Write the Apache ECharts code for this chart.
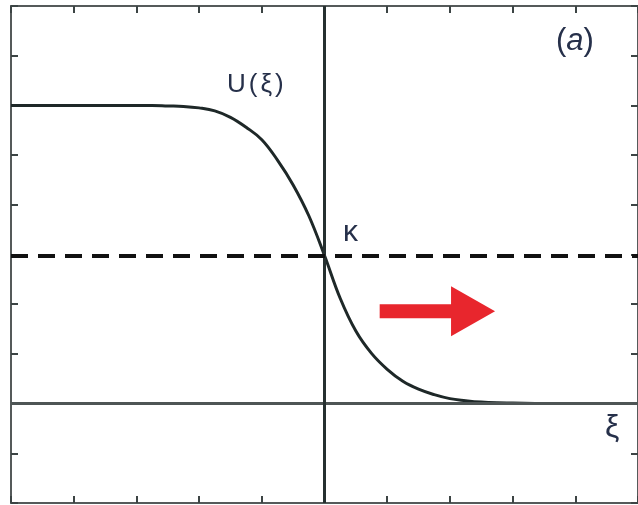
<!DOCTYPE html>
<html>
<head>
<meta charset="utf-8">
<script src="https://cdn.jsdelivr.net/npm/echarts@6/dist/echarts.min.js"></script>
<style>
  html, body { margin: 0; padding: 0; background: #ffffff; }
  #chart { width: 638px; height: 505px; }
</style>
</head>
<body>
<div id="chart"></div>
<script>
// Travelling front profile U(ξ): plateau on the left, decaying to zero on the right
const xi = [-5, -4.5, -4, -3.5, -3, -2.75, -2.5, -2.25, -2, -1.75, -1.5, -1.25, -1, -0.75, -0.5, -0.25, 0,
            0.25, 0.5, 0.75, 1, 1.25, 1.5, 1.75, 2, 2.25, 2.5, 2.75, 3, 3.5, 4, 4.5, 5];
const U  = [6.0, 6.0, 6.0, 6.0, 6.0, 6.0, 5.99, 5.98, 5.95, 5.89, 5.76, 5.56, 5.31, 4.90, 4.40, 3.78, 2.98,
            2.12, 1.46, 1.01, 0.69, 0.45, 0.29, 0.18, 0.10, 0.06, 0.03, 0.015, 0.01, 0.0, 0.0, 0.0, 0.0];

// Level κ where the front crosses ξ = 0
const kappa = 2.98;

// Direction of propagation: start and end ξ, at height U
const arrowXi = [0.88, 2.72];
const arrowU = 1.86;

// Axis ranges (ticks only, no labels)
const xRange = [-5, 5];
const yRange = [-2, 8];

const curve = xi.map((x, i) => [x, U[i]]);

const chart = echarts.init(document.getElementById('chart'), null, { renderer: 'canvas' });

const frameLine = { show: true, onZero: false, lineStyle: { color: '#555a5a', width: 2 } };
const tick = { show: true, inside: true, length: 7, lineStyle: { color: '#3c4444', width: 2 } };
const ink = '#26304a';

chart.setOption({
  animation: false,
  backgroundColor: '#ffffff',
  grid: { left: 11, top: 6, width: 629, height: 497 },
  xAxis: [
    { type: 'value', min: xRange[0], max: xRange[1], interval: 1, position: 'bottom',
      axisLine: frameLine, axisTick: tick, axisLabel: { show: false }, splitLine: { show: false } },
    { type: 'value', min: xRange[0], max: xRange[1], interval: 1, position: 'top',
      axisLine: frameLine, axisTick: tick, axisLabel: { show: false }, splitLine: { show: false } }
  ],
  yAxis: [
    { type: 'value', min: yRange[0], max: yRange[1], interval: 1, position: 'left',
      axisLine: frameLine, axisTick: tick, axisLabel: { show: false }, splitLine: { show: false } },
    { type: 'value', min: yRange[0], max: yRange[1], interval: 1, position: 'right',
      axisLine: frameLine, axisTick: tick, axisLabel: { show: false }, splitLine: { show: false } }
  ],
  series: [
    {
      // reference lines: ξ = 0, U = 0 and the dashed level κ
      type: 'line',
      data: [],
      silent: true,
      markLine: {
        symbol: 'none',
        silent: true,
        label: { show: false },
        animation: false,
        data: [
          { yAxis: 0, lineStyle: { type: 'solid', color: '#4e5555', width: 3 } },
          { xAxis: 0, lineStyle: { type: 'solid', color: '#263030', width: 3 } },
          { yAxis: kappa, lineStyle: { type: [17, 10], color: '#111111', width: 4 } }
        ]
      },
      z: 1
    },
    {
      type: 'line',
      data: curve,
      smooth: 0.4,
      showSymbol: false,
      lineStyle: { color: '#1e2828', width: 3 },
      z: 3
    },
    {
      // propagation arrow
      type: 'custom',
      silent: true,
      data: [[arrowXi[0], arrowXi[1], arrowU]],
      renderItem: function (params, api) {
        const p0 = api.coord([api.value(0), api.value(2)]);
        const p1 = api.coord([api.value(1), api.value(2)]);
        const headLen = 44, headHalf = 25, shaftHalf = 7;
        const hx = p1[0] - headLen;
        return {
          type: 'polygon',
          shape: {
            points: [
              [p0[0], p0[1] - shaftHalf],
              [hx, p0[1] - shaftHalf],
              [hx, p0[1] - headHalf],
              [p1[0], p1[1]],
              [hx, p0[1] + headHalf],
              [hx, p0[1] + shaftHalf],
              [p0[0], p0[1] + shaftHalf]
            ]
          },
          style: { fill: '#e8262d' }
        };
      },
      z: 4
    }
  ],
  graphic: [
    { type: 'text', left: 227, top: 72,
      style: {
        rich: { c: { fill: ink, font: '26px "Liberation Sans", Arial, sans-serif', padding: [0, 1.5] } },
        text: '{c|U}{c|(}{c|ξ}{c|)}'
      } },
    { type: 'text', left: 343, top: 218,
      style: { text: 'κ', fill: ink, font: '30px "Liberation Sans", Arial, sans-serif' } },
    { type: 'text', left: 605, top: 412,
      style: { text: 'ξ', fill: ink, font: '32px "Liberation Sans", Arial, sans-serif' } },
    { type: 'text', left: 556, top: 26,
      style: { rich: {
        p: { fill: ink, font: '31px "Liberation Sans", Arial, sans-serif' },
        i: { fill: ink, font: 'italic 31px "Liberation Sans", Arial, sans-serif' }
      }, text: '{p|(}{i|a}{p|)}' } }
  ]
});
</script>
</body>
</html>
